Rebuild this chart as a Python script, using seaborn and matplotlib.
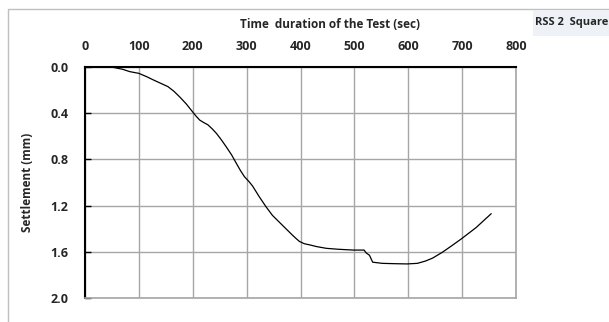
import matplotlib
matplotlib.use("Agg")
import matplotlib.pyplot as plt
import seaborn as sns
import pandas as pd
from matplotlib.patches import Rectangle

time_sec = [0, 30, 52, 70, 83, 100, 115, 126, 140, 154, 165, 176, 188, 200, 207, 213,
            220, 228, 236, 244, 253, 262, 272, 281, 289, 296, 304, 311, 323, 336, 348,
            361, 374, 386, 393, 398, 407, 417, 430, 448, 470, 498, 518, 522, 528, 534,
            552, 575, 598, 617, 632, 645, 663, 680, 698, 712, 726, 740, 754]
settlement_mm = [0.0, 0.0, 0.003, 0.02, 0.04, 0.055, 0.085, 0.11, 0.14, 0.17, 0.21,
                 0.26, 0.32, 0.39, 0.43, 0.46, 0.48, 0.50, 0.535, 0.575, 0.63, 0.69,
                 0.76, 0.835, 0.90, 0.95, 0.99, 1.03, 1.12, 1.21, 1.285, 1.345, 1.405,
                 1.46, 1.49, 1.51, 1.53, 1.54, 1.555, 1.57, 1.578, 1.585, 1.585, 1.61,
                 1.63, 1.69, 1.70, 1.703, 1.705, 1.70, 1.68, 1.655, 1.605, 1.55, 1.49,
                 1.44, 1.39, 1.33, 1.27]
x_ticks = [0, 100, 200, 300, 400, 500, 600, 700, 800]
y_ticks = [0.0, 0.4, 0.8, 1.2, 1.6, 2.0]
title = "Time  duration of the Test (sec)"
ylabel = "Settlement (mm)"
tag = "RSS 2  Square"

df = pd.DataFrame({"t": time_sec, "s": settlement_mm})

sns.set_theme(style="white")
plt.rcParams["font.family"] = ["Open Sans", "DejaVu Sans"]

fig = plt.figure(figsize=(6.09, 3.22), dpi=100)
ax = fig.add_axes([85 / 609, 1 - 298 / 322, 431 / 609, 231 / 322])

sns.lineplot(data=df, x="t", y="s", ax=ax, color="black", linewidth=0.9, sort=False)

fs = 9
ax.set_xlim(0, 800)
ax.set_ylim(2.0, 0.0)
ax.set_xticks(x_ticks)
ax.set_yticks(y_ticks)
ax.xaxis.tick_top()
ax.set_xticklabels([str(v) for v in x_ticks], fontsize=fs, fontweight="bold")
ax.set_yticklabels([f"{v:.1f}" for v in y_ticks], fontsize=fs, fontweight="bold")
ax.tick_params(axis="x", top=True, bottom=False, length=0, pad=10)
ax.tick_params(axis="y", left=True, direction="in", length=4, width=1, color="black", pad=12)
ax.grid(True, color="#a6a6a6", linewidth=1)
ax.set_axisbelow(True)
ax.set_xlabel("")
ax.set_ylabel(ylabel, fontsize=8.5, fontweight="bold", labelpad=12)

for side in ["top", "left"]:
    ax.spines[side].set_color("black")
    ax.spines[side].set_linewidth(1.5)
for side in ["right", "bottom"]:
    ax.spines[side].set_color("#a6a6a6")
    ax.spines[side].set_linewidth(1.2)

fig.text(330 / 609, 1 - 25 / 322, title, ha="center", va="center",
         fontsize=8.5, fontweight="bold")

# outer frame
fig.patches.append(Rectangle((8 / 609, -0.05), 1.2, 1 - 9 / 322 + 0.05,
                             transform=fig.transFigure, fill=False,
                             edgecolor="#bfbfbf", linewidth=1))
# tag box
fig.patches.append(Rectangle((533 / 609, 1 - 36 / 322), 0.2, 26 / 322,
                             transform=fig.transFigure, facecolor="#eef2f7",
                             edgecolor="none"))
fig.text(608 / 609, 1 - 22 / 322, tag, ha="right", va="center",
         fontsize=8, fontweight="bold")

fig.savefig("out.png", dpi=100)
